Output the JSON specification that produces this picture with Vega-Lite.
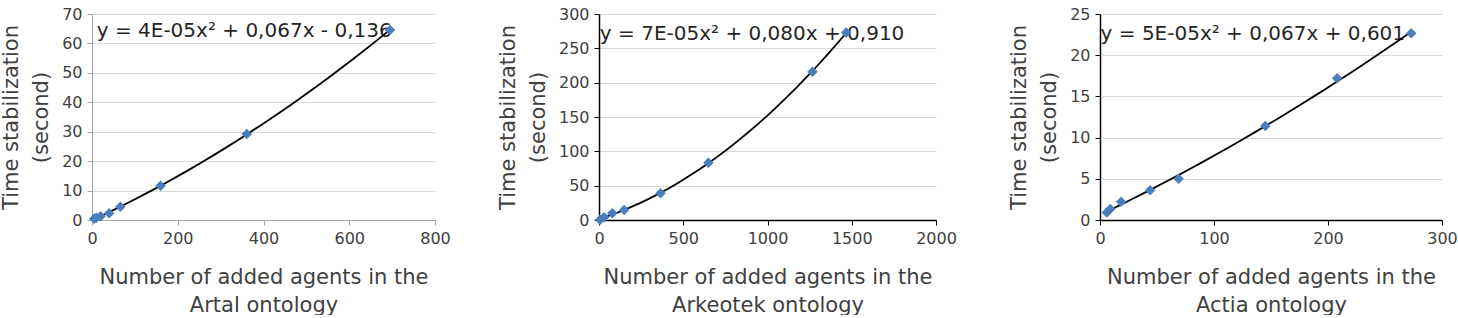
{
  "$schema": "https://vega.github.io/schema/vega-lite/v6.json",
  "background": "white",
  "padding": {"left": 0, "top": 6, "right": 0, "bottom": 0},
  "config": {
    "view": {"stroke": null},
    "font": "DejaVu Sans",
    "axis": {
      "labelFont": "DejaVu Sans", "labelFontSize": 16, "labelColor": "#404040",
      "titleFont": "DejaVu Sans", "titleFontSize": 21, "titleFontWeight": "normal", "titleColor": "#404040",
      "tickSize": 5, "labelPadding": 5, "gridColor": "#d9d9d9", "gridWidth": 1, "labelFlush": false, "labelOverlap": false, "format": "d"
    },
    "axisX": {"grid": false, "titleLineHeight": 28, "titlePadding": 20},
    "axisY": {"grid": true, "titleLineHeight": 30, "titlePadding": 10}
  },
  "datasets": {
    "pts": [
      {"ontology": "Artal", "x": 5, "y": 0.4},
      {"ontology": "Artal", "x": 10, "y": 0.8},
      {"ontology": "Artal", "x": 20, "y": 1.3},
      {"ontology": "Artal", "x": 40, "y": 2.3},
      {"ontology": "Artal", "x": 66, "y": 4.5},
      {"ontology": "Artal", "x": 160, "y": 11.6},
      {"ontology": "Artal", "x": 361, "y": 29.2},
      {"ontology": "Artal", "x": 695, "y": 64.6},
      {"ontology": "Arkeotek", "x": 6, "y": 0.3},
      {"ontology": "Arkeotek", "x": 30, "y": 3.9},
      {"ontology": "Arkeotek", "x": 79, "y": 9.7},
      {"ontology": "Arkeotek", "x": 149, "y": 14.6},
      {"ontology": "Arkeotek", "x": 365, "y": 38.8},
      {"ontology": "Arkeotek", "x": 649, "y": 83.5},
      {"ontology": "Arkeotek", "x": 1267, "y": 216},
      {"ontology": "Arkeotek", "x": 1467, "y": 273},
      {"ontology": "Actia", "x": 6, "y": 0.9},
      {"ontology": "Actia", "x": 9, "y": 1.35},
      {"ontology": "Actia", "x": 18.5, "y": 2.2},
      {"ontology": "Actia", "x": 44, "y": 3.6},
      {"ontology": "Actia", "x": 69, "y": 5.0},
      {"ontology": "Actia", "x": 145, "y": 11.4},
      {"ontology": "Actia", "x": 208, "y": 17.2},
      {"ontology": "Actia", "x": 273, "y": 22.65}
    ]
  },
  "bounds": "flush",
  "spacing": 164,
  "hconcat": [
    {
      "width": 343, "height": 206,
      "layer": [
        {
          "data": {"values": [{"eq": "y = 4E-05x² + 0,067x - 0,136"}]},
          "mark": {"type": "text", "align": "left", "baseline": "middle", "fontSize": 20, "font": "DejaVu Sans", "color": "#262626"},
          "encoding": {
            "x": {"datum": 11, "type": "quantitative", "scale": {"domain": [0, 800], "nice": false},
                  "axis": {"values": [0, 200, 400, 600, 800], "title": ["Number of added agents in the", "Artal ontology"], "domainColor": "#a6a6a6", "tickColor": "#a6a6a6"}},
            "y": {"datum": 64.3, "type": "quantitative", "scale": {"domain": [0, 70], "nice": false},
                  "axis": {"values": [0, 10, 20, 30, 40, 50, 60, 70], "title": ["Time stabilization", "(second)"], "domainColor": "#a6a6a6", "tickColor": "#a6a6a6"}},
            "text": {"field": "eq"}
          }
        },
        {
          "data": {"name": "pts"},
          "transform": [{"filter": "datum.ontology === 'Artal'"}, {"regression": "y", "on": "x", "method": "poly", "order": 2}],
          "mark": {"type": "line", "color": "black", "strokeWidth": 1.8},
          "encoding": {
            "x": {"field": "x", "type": "quantitative", "scale": {"domain": [0, 800], "nice": false},
                  "axis": {"values": [0, 200, 400, 600, 800], "title": ["Number of added agents in the", "Artal ontology"], "domainColor": "#a6a6a6", "tickColor": "#a6a6a6"}},
            "y": {"field": "y", "type": "quantitative", "scale": {"domain": [0, 70], "nice": false},
                  "axis": {"values": [0, 10, 20, 30, 40, 50, 60, 70], "title": ["Time stabilization", "(second)"], "domainColor": "#a6a6a6", "tickColor": "#a6a6a6"}}
          }
        },
        {
          "data": {"name": "pts"},
          "transform": [{"filter": "datum.ontology === 'Artal'"}],
          "mark": {"type": "point", "shape": "diamond", "filled": true, "color": "#4a7ebb", "size": 110, "opacity": 1},
          "encoding": {
            "x": {"field": "x", "type": "quantitative", "scale": {"domain": [0, 800], "nice": false},
                  "axis": {"values": [0, 200, 400, 600, 800], "title": ["Number of added agents in the", "Artal ontology"], "domainColor": "#a6a6a6", "tickColor": "#a6a6a6"}},
            "y": {"field": "y", "type": "quantitative", "scale": {"domain": [0, 70], "nice": false},
                  "axis": {"values": [0, 10, 20, 30, 40, 50, 60, 70], "title": ["Time stabilization", "(second)"], "domainColor": "#a6a6a6", "tickColor": "#a6a6a6"}}
          }
        }
      ]
    },
    {
      "width": 337, "height": 206,
      "layer": [
        {
          "data": {"values": [{"eq": "y = 7E-05x² + 0,080x + 0,910"}]},
          "mark": {"type": "text", "align": "left", "baseline": "middle", "fontSize": 20, "font": "DejaVu Sans", "color": "#262626"},
          "encoding": {
            "x": {"datum": 5, "type": "quantitative", "scale": {"domain": [0, 2000], "nice": false},
                  "axis": {"values": [0, 500, 1000, 1500, 2000], "title": ["Number of added agents in the", "Arkeotek ontology"], "domainColor": "#000000", "domainWidth": 1.5, "tickColor": "#000000"}},
            "y": {"datum": 271, "type": "quantitative", "scale": {"domain": [0, 300], "nice": false},
                  "axis": {"values": [0, 50, 100, 150, 200, 250, 300], "title": ["Time stabilization", "(second)"], "domainColor": "#000000", "domainWidth": 1.5, "tickColor": "#000000"}},
            "text": {"field": "eq"}
          }
        },
        {
          "data": {"name": "pts"},
          "transform": [{"filter": "datum.ontology === 'Arkeotek'"}, {"regression": "y", "on": "x", "method": "poly", "order": 2}],
          "mark": {"type": "line", "color": "black", "strokeWidth": 1.8},
          "encoding": {
            "x": {"field": "x", "type": "quantitative", "scale": {"domain": [0, 2000], "nice": false},
                  "axis": {"values": [0, 500, 1000, 1500, 2000], "title": ["Number of added agents in the", "Arkeotek ontology"], "domainColor": "#000000", "domainWidth": 1.5, "tickColor": "#000000"}},
            "y": {"field": "y", "type": "quantitative", "scale": {"domain": [0, 300], "nice": false},
                  "axis": {"values": [0, 50, 100, 150, 200, 250, 300], "title": ["Time stabilization", "(second)"], "domainColor": "#000000", "domainWidth": 1.5, "tickColor": "#000000"}}
          }
        },
        {
          "data": {"name": "pts"},
          "transform": [{"filter": "datum.ontology === 'Arkeotek'"}],
          "mark": {"type": "point", "shape": "diamond", "filled": true, "color": "#4a7ebb", "size": 110, "opacity": 1},
          "encoding": {
            "x": {"field": "x", "type": "quantitative", "scale": {"domain": [0, 2000], "nice": false},
                  "axis": {"values": [0, 500, 1000, 1500, 2000], "title": ["Number of added agents in the", "Arkeotek ontology"], "domainColor": "#000000", "domainWidth": 1.5, "tickColor": "#000000"}},
            "y": {"field": "y", "type": "quantitative", "scale": {"domain": [0, 300], "nice": false},
                  "axis": {"values": [0, 50, 100, 150, 200, 250, 300], "title": ["Time stabilization", "(second)"], "domainColor": "#000000", "domainWidth": 1.5, "tickColor": "#000000"}}
          }
        }
      ]
    },
    {
      "width": 342, "height": 206,
      "layer": [
        {
          "data": {"values": [{"eq": "y = 5E-05x² + 0,067x + 0,601"}]},
          "mark": {"type": "text", "align": "left", "baseline": "middle", "fontSize": 20, "font": "DejaVu Sans", "color": "#262626"},
          "encoding": {
            "x": {"datum": 0.5, "type": "quantitative", "scale": {"domain": [0, 300], "nice": false},
                  "axis": {"values": [0, 100, 200, 300], "title": ["Number of added agents in the", "Actia ontology"], "domainColor": "#000000", "domainWidth": 1.5, "tickColor": "#000000"}},
            "y": {"datum": 22.6, "type": "quantitative", "scale": {"domain": [0, 25], "nice": false},
                  "axis": {"values": [0, 5, 10, 15, 20, 25], "title": ["Time stabilization", "(second)"], "domainColor": "#000000", "domainWidth": 1.5, "tickColor": "#000000"}},
            "text": {"field": "eq"}
          }
        },
        {
          "data": {"name": "pts"},
          "transform": [{"filter": "datum.ontology === 'Actia'"}, {"regression": "y", "on": "x", "method": "poly", "order": 2}],
          "mark": {"type": "line", "color": "black", "strokeWidth": 1.8},
          "encoding": {
            "x": {"field": "x", "type": "quantitative", "scale": {"domain": [0, 300], "nice": false},
                  "axis": {"values": [0, 100, 200, 300], "title": ["Number of added agents in the", "Actia ontology"], "domainColor": "#000000", "domainWidth": 1.5, "tickColor": "#000000"}},
            "y": {"field": "y", "type": "quantitative", "scale": {"domain": [0, 25], "nice": false},
                  "axis": {"values": [0, 5, 10, 15, 20, 25], "title": ["Time stabilization", "(second)"], "domainColor": "#000000", "domainWidth": 1.5, "tickColor": "#000000"}}
          }
        },
        {
          "data": {"name": "pts"},
          "transform": [{"filter": "datum.ontology === 'Actia'"}],
          "mark": {"type": "point", "shape": "diamond", "filled": true, "color": "#4a7ebb", "size": 110, "opacity": 1},
          "encoding": {
            "x": {"field": "x", "type": "quantitative", "scale": {"domain": [0, 300], "nice": false},
                  "axis": {"values": [0, 100, 200, 300], "title": ["Number of added agents in the", "Actia ontology"], "domainColor": "#000000", "domainWidth": 1.5, "tickColor": "#000000"}},
            "y": {"field": "y", "type": "quantitative", "scale": {"domain": [0, 25], "nice": false},
                  "axis": {"values": [0, 5, 10, 15, 20, 25], "title": ["Time stabilization", "(second)"], "domainColor": "#000000", "domainWidth": 1.5, "tickColor": "#000000"}}
          }
        }
      ]
    }
  ]
}
